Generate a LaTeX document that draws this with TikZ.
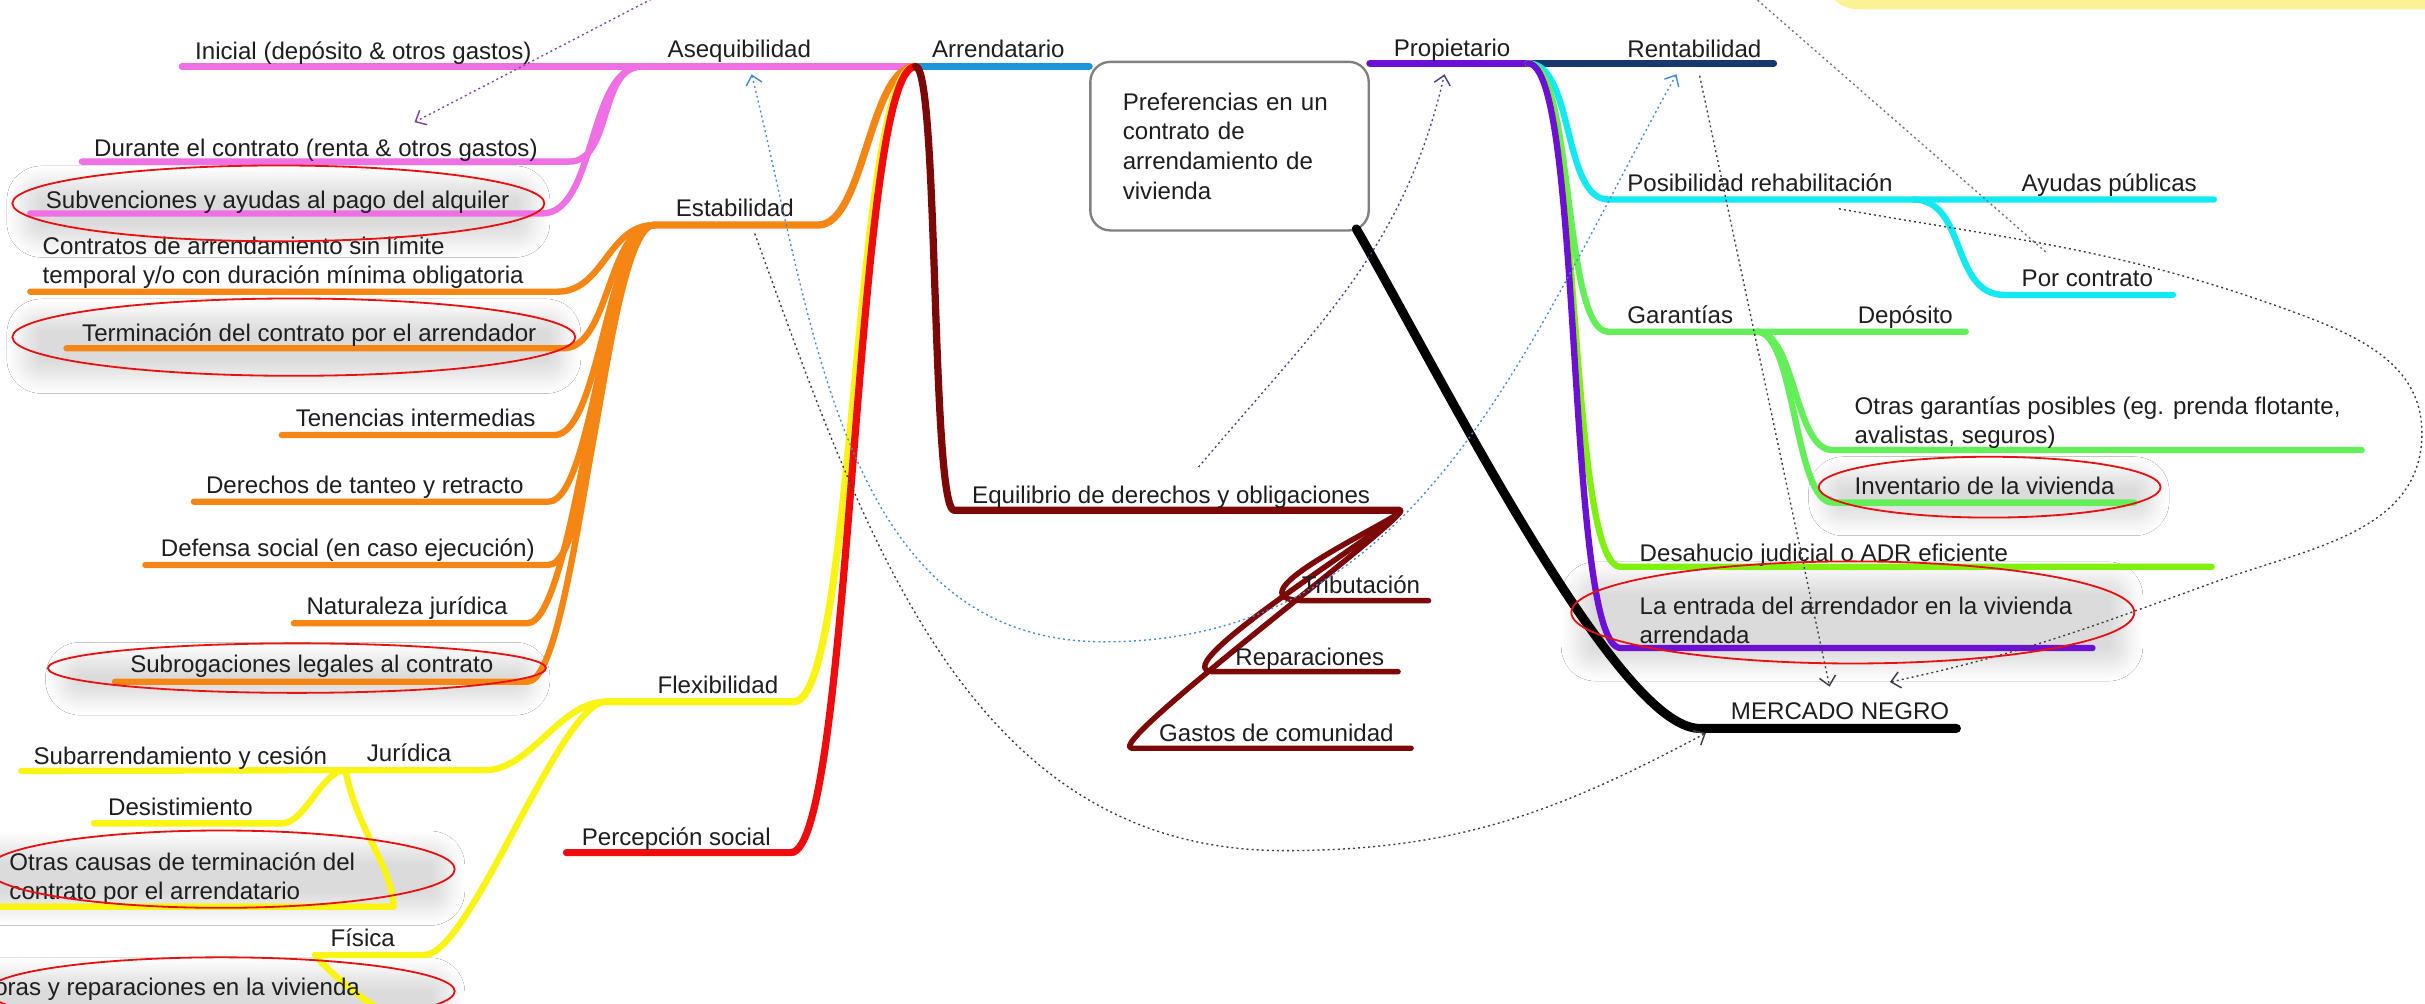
\documentclass[tikz,border=0pt]{standalone}
\usepackage{fontspec}
\setmainfont{Liberation Sans}
\usetikzlibrary{arrows.meta,shadows.blur}
\definecolor{cPink}{RGB}{238,112,228}
\definecolor{cBlue}{RGB}{28,150,214}
\definecolor{cOrange}{RGB}{246,134,20}
\definecolor{cYellow}{RGB}{250,244,20}
\definecolor{cRed}{RGB}{240,12,12}
\definecolor{cMaroon}{RGB}{125,8,8}
\definecolor{cPurple}{RGB}{108,16,214}
\definecolor{cNavy}{RGB}{22,58,110}
\definecolor{cCyan}{RGB}{20,232,240}
\definecolor{cGreen}{RGB}{100,238,90}
\definecolor{cLime}{RGB}{128,240,14}
\definecolor{txtc}{RGB}{30,30,30}
\definecolor{cHl}{RGB}{232,16,16}
\definecolor{cBoxLine}{RGB}{128,128,128}
\definecolor{cDot}{RGB}{60,60,70}
\definecolor{cDotBlue}{RGB}{70,140,215}
\definecolor{cDotSlate}{RGB}{70,70,135}
\definecolor{cDotPurple}{RGB}{125,70,160}
\definecolor{cDotGrey}{RGB}{125,105,135}
\definecolor{cNote}{RGB}{251,242,150}
\newcommand\labf{\fontsize{13.3pt}{15.8pt}\selectfont}
\newcommand\boxf{\fontsize{13.3pt}{16.4pt}\selectfont}
\begin{document}
\begin{tikzpicture}[x=0.03cm,y=-0.03cm,
  tl/.style={line width=4pt,line cap=round,line join=round},
  cl/.style={line width=3.5pt,line cap=round,line join=round},
  ml/.style={line width=3pt,line cap=round,line join=round},
  lab/.style={inner sep=0pt,anchor=base west,font=\labf,text=txtc},
  dotl/.style={line width=0.75pt,dash pattern=on 1.1pt off 1.7pt},
  arrowend/.style={-{Straight Barb[length=5pt,width=9pt,line width=0.8pt]}},
  hl/.style={draw=cHl,line width=1pt},
  hlsh/.style={rounded corners=10pt,blur shadow={shadow xshift=0pt,shadow yshift=-5pt,shadow blur radius=9pt,shadow blur steps=12,shadow opacity=14}},
  rootbox/.style={draw=cBoxLine,line width=1.3pt,rounded corners=11pt,fill=white,
    text width=4.14cm,inner xsep=0.63cm,inner ysep=0pt,minimum height=3.27cm,
    align=left,font=\boxf,text=txtc}]
\useasboundingbox (0,0) rectangle (1568,649);
\fill[white] (0,0) rectangle (1568,649);

% yellow note edge at the top right
\fill[cNote,rounded corners=18pt] (1180,-60) rectangle (1620,6);

% highlight shadows
\path[hlsh] (15,112) rectangle (345,150);
\path[hlsh] (15,198) rectangle (365,238);
\path[hlsh] (40,420) rectangle (345,446);
\path[hlsh] (-10,542) rectangle (290,582);
\path[hlsh] (-10,624) rectangle (290,662);
\path[hlsh] (1180,300) rectangle (1392,330);
\path[hlsh] (1020,368) rectangle (1375,424);

% ---------- coordinates ----------
\coordinate (arrJ) at (592,43);
\coordinate (propJ) at (988,41);
\coordinate (aseqJ) at (415,43);
\coordinate (iniL) at (117.6,43);
\coordinate (durR) at (368,104.5);  \coordinate (durL) at (52.9,104.5);
\coordinate (subR) at (350.6,138);  \coordinate (subL) at (19.6,138);
\coordinate (estR) at (529,145.5);  \coordinate (estJ) at (423,145.5);
\coordinate (conR) at (360.4,188.6); \coordinate (conL) at (19.6,188.6);
\coordinate (terR) at (364.4,225.2); \coordinate (terL) at (43,225.2);
\coordinate (tenR) at (358.5,281.3); \coordinate (tenL) at (182.2,281.3);
\coordinate (derR) at (354.5,324.4); \coordinate (derL) at (125.4,324.4);
\coordinate (defR) at (354.5,365.3); \coordinate (defL) at (94,365.3);
\coordinate (natR) at (340.9,403);   \coordinate (natL) at (190,403);
\coordinate (sgR) at (341,440.8);    \coordinate (sgL) at (74.4,440.8);
\coordinate (flexR) at (513.2,453.7); \coordinate (flexJ) at (391.8,453.7);
\coordinate (jurR) at (313.4,498);   \coordinate (jurL) at (223.3,498);
\coordinate (sbaL) at (13.7,498.5);
\coordinate (desiR) at (182.2,532.4); \coordinate (desiL) at (60.7,532.4);
\coordinate (otcR) at (254.6,586.2); \coordinate (otcL) at (-8,586.2);
\coordinate (fisR) at (274.3,617.5); \coordinate (fisL) at (203.7,617.5);
\coordinate (mejR) at (246,653);     \coordinate (mejL) at (-10,653);
\coordinate (perR) at (511.3,551.3); \coordinate (perL) at (366.3,551.3);
\coordinate (eqL) at (617,330);      \coordinate (eqR) at (905,330);
\coordinate (tribL) at (844.5,388.4); \coordinate (tribR) at (923.7,388.4);
\coordinate (repL) at (785,434.3);   \coordinate (repR) at (904,434.3);
\coordinate (gasL) at (732,483.8);   \coordinate (gasR) at (912.4,483.8);
\coordinate (rentR) at (1147,41);
\coordinate (posL) at (1040,129);    \coordinate (posJ) at (1237,129); \coordinate (ayuR) at (1431.5,129);
\coordinate (porL) at (1296,190.7);  \coordinate (porR) at (1405,190.7);
\coordinate (garL) at (1040,214.5);  \coordinate (garJ) at (1136,214.5); \coordinate (depR) at (1271,214.5);
\coordinate (otgL) at (1185,291);    \coordinate (otgR) at (1527,291);
\coordinate (invL) at (1185,325);    \coordinate (invR) at (1380,325);
\coordinate (dshL) at (1048,366.5);  \coordinate (dshR) at (1430,366.5);
\coordinate (entL) at (1048,419);    \coordinate (entR) at (1353,419);
\coordinate (mnS) at (877,148);
\coordinate (mnL) at (1099,471);     \coordinate (mnR) at (1265,471);

% ---------- central box ----------
\node[rootbox] (root) at (795,94.5) {Preferencias en un\\contrato de\\arrendamiento de\\vivienda};

% ---------- left side (Arrendatario) ----------
\draw[tl,cBlue] (arrJ) -- (root.north west |- arrJ);
\draw[tl,cPink] (aseqJ) -- (arrJ);
\draw[cl,cPink] (iniL) -- (aseqJ);
\draw[cl,cPink] (aseqJ) .. controls +(-28,0) and +(28,0) .. (durR) -- (durL);
\draw[cl,cPink] (aseqJ) .. controls +(-35,0) and +(35,0) .. (subR) -- (subL);

\draw[tl,cOrange] (arrJ) .. controls +(-30,0) and +(30,0) .. (estR) -- (estJ);
\foreach \r/\l/\d in {conR/conL/30,terR/terL/30,tenR/tenL/30,derR/derL/30,defR/defL/30,natR/natL/32,sgR/sgL/32}{
  \draw[cl,cOrange] (estJ) .. controls +(-\d,0) and +(\d,0) .. (\r) -- (\l);
}

\draw[tl,cYellow] (arrJ) .. controls +(-40,0) and +(40,0) .. (flexR) -- (flexJ);
\draw[cl,cYellow] (flexJ) .. controls +(-30,0) and +(30,0) .. (jurR) -- (jurL) -- (sbaL);
\draw[cl,cYellow] (jurL) .. controls +(-15,0) and +(15,0) .. (desiR) -- (desiL);
\draw[cl,cYellow] (jurL) .. controls (232,540) and (252,556) .. (otcR) -- (otcL);
\draw[cl,cYellow] (flexJ) .. controls +(-30,0) and +(30,0) .. (fisR) -- (fisL);
\draw[cl,cYellow] (fisL) .. controls (214,630) and (234,646) .. (mejR) -- (mejL);

\draw[tl,cRed] (arrJ) .. controls +(-40,0) and +(40,0) .. (perR) -- (perL);

\draw[tl,cMaroon] (arrJ) .. controls +(15,0) and +(-15,0) .. (eqL) -- (eqR);
\draw[ml,cMaroon] (eqR) .. controls +(12,0) and +(-60,0) .. (tribL) -- (tribR);
\draw[ml,cMaroon] (eqR) .. controls +(12,0) and +(-40,0) .. (repL) -- (repR);
\draw[ml,cMaroon] (eqR) .. controls +(12,0) and +(-22,0) .. (gasL) -- (gasR);

% ---------- right side (Propietario) ----------
\draw[tl,cPurple] (root.north east |- propJ) -- (propJ);
\draw[cl,cNavy] (propJ) -- (rentR);
\draw[cl,cCyan] (propJ) .. controls +(30,0) and +(-30,0) .. (posL) -- (posJ) -- (ayuR);
\draw[cl,cCyan] (posJ) .. controls +(35,0) and +(-35,0) .. (porL) -- (porR);
\draw[cl,cGreen] (propJ) .. controls +(30,0) and +(-30,0) .. (garL) -- (garJ) -- (depR);
\draw[cl,cGreen] (garJ) .. controls +(25,0) and +(-25,0) .. (otgL) -- (otgR);
\draw[cl,cGreen] (garJ) .. controls +(25,0) and +(-25,0) .. (invL) -- (invR);
\draw[cl,cLime] (propJ) .. controls +(35,0) and +(-35,0) .. (dshL) -- (dshR);
\draw[cl,cPurple] (propJ) .. controls +(36,0) and +(-36,0) .. (entL) -- (entR);
\draw[line width=5pt,line cap=round,black] (mnS) .. controls (930,240) and (1045,471) .. (mnL) -- (mnR);

% ---------- labels ----------
\node[lab] (tArr) at (602.4,37.5) {Arrendatario};
\node[lab] (tProp) at (901,36.6) {Propietario};
\node[lab] (tAseq) at (431.5,37) {Asequibilidad};
\node[lab] (tIni) at (126,38.5) {Inicial (depósito \& otros gastos)};
\node[lab] (tDur) at (60.7,101) {Durante el contrato (renta \& otros gastos)};
\node[lab] (tSub) at (29.4,134.5) {Subvenciones y ayudas al pago del alquiler};
\node[lab] (tEst) at (436.8,140) {Estabilidad};
\node[lab] (tCon) at (27.4,183) {\begin{tabular}[b]{@{}l@{}}Contratos de arrendamiento sin límite\\temporal y/o con duración mínima obligatoria\end{tabular}};
\node[lab] (tTer) at (52.9,221) {Terminación del contrato por el arrendador};
\node[lab] (tTen) at (191,275.5) {Tenencias intermedias};
\node[lab] (tDer) at (133,319) {Derechos de tanteo y retracto};
\node[lab] (tDef) at (103.8,360) {Defensa social (en caso ejecución)};
\node[lab] (tNat) at (198,397.6) {Naturaleza jurídica};
\node[lab] (tSg) at (84,435) {Subrogaciones legales al contrato};
\node[lab] (tFlex) at (425,448.3) {Flexibilidad};
\node[lab] (tJur) at (237,492.5) {Jurídica};
\node[lab] (tSba) at (21.5,494.5) {Subarrendamiento y cesión};
\node[lab] (tDesi) at (69.7,527) {Desistimiento};
\node[lab] (tOtc) at (5.9,581.5) {\begin{tabular}[b]{@{}l@{}}Otras causas de terminación del\\contrato por el arrendatario\end{tabular}};
\node[lab] (tFis) at (213.5,612) {Física};
\node[lab,anchor=base east] (tMej) at (233,643.4) {Mejoras y reparaciones en la vivienda};
\node[lab] (tPer) at (376,546.4) {Percepción social};
\node[lab] (tEq) at (628.4,325.6) {Equilibrio de derechos y obligaciones};
\node[lab] (tTrib) at (841.5,383.5) {Tributación};
\node[lab] (tRep) at (798.6,430) {Reparaciones};
\node[lab] (tGas) at (749.3,479.5) {Gastos de comunidad};
\node[lab] (tRent) at (1052,37.5) {Rentabilidad};
\node[lab] (tPos) at (1052,124) {Posibilidad rehabilitación};
\node[lab] (tAyu) at (1307,124) {Ayudas públicas};
\node[lab] (tPor) at (1307,185.4) {Por contrato};
\node[lab] (tGar) at (1052,209) {Garantías};
\node[lab] (tDep) at (1201,209) {Depósito};
\node[lab] (tOtg) at (1199,286.6) {\begin{tabular}[b]{@{}l@{}}Otras garantías posibles (eg. prenda flotante,\\avalistas, seguros)\end{tabular}};
\node[lab] (tInv) at (1199,320) {Inventario de la vivienda};
\node[lab] (tDsh) at (1060,363) {Desahucio judicial o ADR eficiente};
\node[lab] (tEnt) at (1060,416) {\begin{tabular}[b]{@{}l@{}}La entrada del arrendador en la vivienda\\arrendada\end{tabular}};
\node[lab] (tMn) at (1119,465.5) {MERCADO NEGRO};

% ---------- dotted relations ----------
\coordinate (d1s) at (424,-2);     \coordinate (d1e) at (268,79);
\coordinate (d2s) at (1134,-2);    \coordinate (d2e) at (1323.5,163.6);
\coordinate (d3s) at (1189,135);   \coordinate (d3a) at (1481,201);
\coordinate (d3b) at (1566,280);   \coordinate (d3c) at (1433,376);
\coordinate (d3e) at (1222,441);
\coordinate (d4s) at (1099,49);    \coordinate (d4e) at (1183,444);
\coordinate (d5s) at (486,48);     \coordinate (d5m) at (714,415);  \coordinate (d5e) at (1084,48);
\coordinate (d6s) at (488,151);    \coordinate (d6m) at (830,550);  \coordinate (d6e) at (1103,474);
\coordinate (d7s) at (775,302);    \coordinate (d7e) at (934,48);

\draw[dotl,cDotPurple,arrowend] (d1s) -- (d1e);
\draw[dotl,cDotGrey] (d2s) -- (d2e);
\draw[dotl,cDot,arrowend] (d3s) to[out=-10,in=160] (d3a) to[out=-20,in=90] (d3b)
   to[out=-90,in=20] (d3c) to[out=200,in=12] (d3e);
\draw[dotl,cDot,arrowend] (d4s) -- (d4e);
\draw[dotl,cDotBlue,{Straight Barb[length=5pt,width=9pt,line width=0.8pt]}-{Straight Barb[length=5pt,width=9pt,line width=0.8pt]}]
   (d5s) to[out=-76,in=180] (d5m) to[out=0,in=241] (d5e);
\draw[dotl,cDot,arrowend] (d6s) to[out=-70,in=180] (d6m) to[out=0,in=208] (d6e);
\draw[dotl,cDotSlate,arrowend] (d7s) to[out=50,in=-103] (d7e);

% ---------- red highlight ellipses ----------
\draw[hl] (180,131.5) ellipse [x radius=5.16cm,y radius=0.735cm];
\draw[hl] (190,218) ellipse [x radius=5.46cm,y radius=0.75cm];
\draw[hl] (192,432) ellipse [x radius=4.83cm,y radius=0.48cm];
\draw[hl] (143,562) ellipse [x radius=4.53cm,y radius=0.75cm];
\draw[hl] (143,641) ellipse [x radius=4.53cm,y radius=0.66cm];
\draw[hl] (1286.5,315) ellipse [x radius=3.315cm,y radius=0.59cm];
\draw[hl] (1198,396) ellipse [x radius=5.46cm,y radius=0.99cm];
\end{tikzpicture}
\end{document}
